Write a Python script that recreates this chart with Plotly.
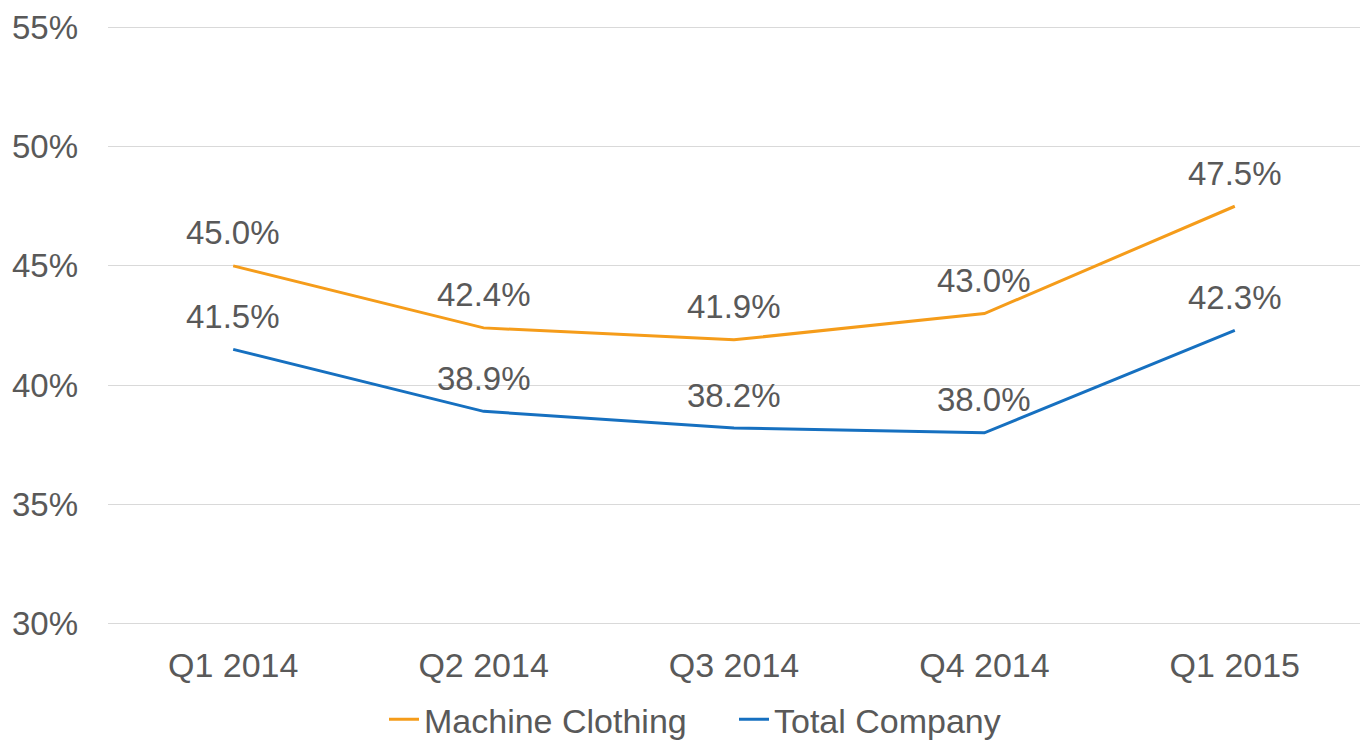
import plotly.graph_objects as go

categories = ["Q1 2014", "Q2 2014", "Q3 2014", "Q4 2014", "Q1 2015"]
machine_clothing = [45.0, 42.4, 41.9, 43.0, 47.5]
total_company = [41.5, 38.9, 38.2, 38.0, 42.3]
y_ticks = [30, 35, 40, 45, 50, 55]

ORANGE = "#F59C1A"
BLUE = "#1670C0"
TXT = "#595959"
FONT = "Liberation Sans, Arial, sans-serif"

fig = go.Figure()
fig.add_trace(go.Scatter(x=categories, y=machine_clothing, mode="lines",
                         name="Machine Clothing", line=dict(color=ORANGE, width=3)))
fig.add_trace(go.Scatter(x=categories, y=total_company, mode="lines",
                         name="Total Company", line=dict(color=BLUE, width=3)))

for series in (machine_clothing, total_company):
    for c, v in zip(categories, series):
        fig.add_annotation(x=c, y=v, text=f"{v:.1f}%", showarrow=False,
                           yshift=33, yanchor="middle",
                           font=dict(size=33, color=TXT, family=FONT))

fig.update_layout(
    width=1369, height=742,
    margin=dict(l=108, r=9, t=25, b=116, autoexpand=False),
    paper_bgcolor="white", plot_bgcolor="white",
    font=dict(family=FONT, size=33, color=TXT),
    showlegend=True,
    legend=dict(orientation="h", xref="container", x=384 / 1369, xanchor="left",
                y=-0.156, yanchor="middle",
                font=dict(size=34, color=TXT), itemwidth=30,
                entrywidth=305, entrywidthmode="pixels", traceorder="normal"),
)
fig.update_xaxes(range=[-0.5, 4.5], showgrid=False, showline=False, zeroline=False,
                 automargin=False,
                 ticklabelstandoff=16, tickfont=dict(size=34, color=TXT))
fig.update_yaxes(range=[29.9, 55.1], tickvals=y_ticks, ticktext=[f"{t}%" for t in y_ticks],
                 showgrid=True, gridcolor="#D9D9D9", gridwidth=1, zeroline=False,
                 automargin=False,
                 showline=False, ticklabelstandoff=29, tickfont=dict(size=33, color=TXT))

fig.write_html("out.html", config={"displayModeBar": False},
               post_script="document.body.style.margin='0';")
